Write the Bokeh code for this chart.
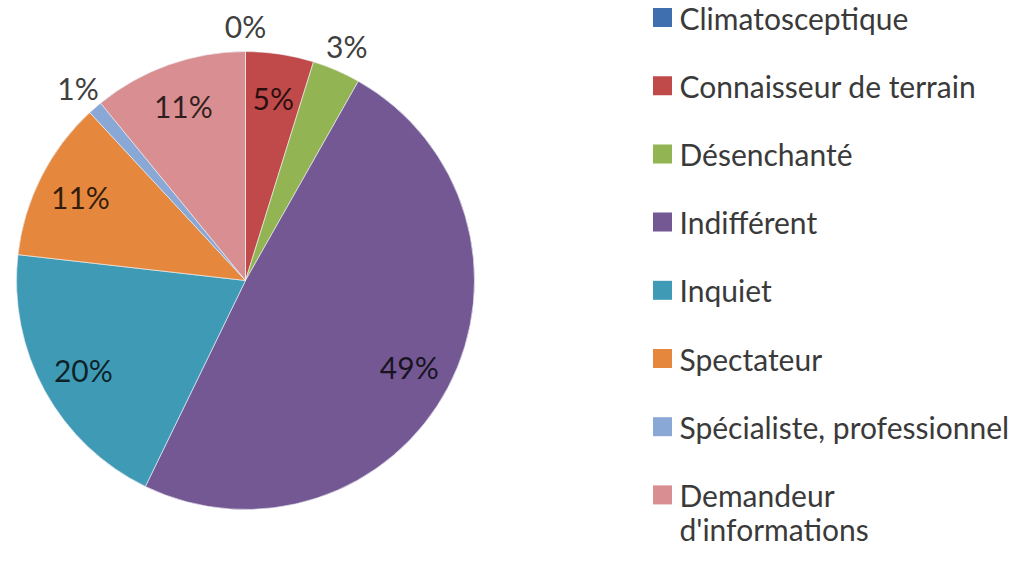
import math
from bokeh.plotting import figure
from bokeh.models import Range1d, ColumnDataSource
from bokeh.core.properties import value
from bokeh.embed import file_html
from bokeh.resources import INLINE

categories = ["Climatosceptique", "Connaisseur de terrain", "Désenchanté", "Indifférent",
              "Inquiet", "Spectateur", "Spécialiste, professionnel", "Demandeur d'informations"]
values = [0.0, 4.8, 3.4, 49.0, 19.6, 11.3, 1.0, 10.9]
colors = ["#3F6FAF", "#BF4A49", "#92B453", "#735893", "#3F9AB5", "#E5873D", "#8AA8D6", "#D98F91"]
legend_lines = [["Climatosceptique"], ["Connaisseur de terrain"], ["Désenchanté"], ["Indifférent"],
                ["Inquiet"], ["Spectateur"], ["Spécialiste, professionnel"], ["Demandeur", "d'informations"]]

W, H = 1010, 548
FONT = "Lato"
FS = "30px"

def Y(y_ref):
    return H - y_ref

p = figure(width=W, height=H, output_backend="svg", toolbar_location=None,
           x_range=Range1d(0, W), y_range=Range1d(0, H), min_border=0)
p.axis.visible = False
p.grid.visible = False
p.outline_line_color = None
p.background_fill_color = "white"

cx, cy, R = 245, Y(280), 229
total = sum(values)
starts, ends, mids = [], [], []
cum = 0.0
for v in values:
    a0 = cum / total
    cum += v
    a1 = cum / total
    starts.append(math.pi / 2 - 2 * math.pi * a0)
    ends.append(math.pi / 2 - 2 * math.pi * a1)
    mids.append(math.pi / 2 - 2 * math.pi * (a0 + a1) / 2)

src = ColumnDataSource(dict(x=[cx] * len(values), y=[cy] * len(values), s=starts, e=ends, c=colors))
p.wedge(x="x", y="y", radius=R, start_angle="s", end_angle="e", direction="clock",
        fill_color="c", line_color="white", line_alpha=0.6, line_width=1, source=src)

# percentage labels
in_x, in_y, in_t, out_x, out_y, out_t = [], [], [], [], [], []
for v, m in zip(values, mids):
    lab = f"{round(v / total * 100):.0f}%"
    if v < 4:
        r = 255
        out_x.append(cx + r * math.cos(m)); out_y.append(cy + r * math.sin(m)); out_t.append(lab)
    else:
        r = 185
        in_x.append(cx + r * math.cos(m)); in_y.append(cy + r * math.sin(m)); in_t.append(lab)

p.text(x=in_x, y=in_y, text=in_t, text_font=value(FONT), text_font_size=FS,
       text_color="black", text_alpha=0.78, text_align="center", text_baseline="middle")
p.text(x=out_x, y=out_y, text=out_t, text_font=value(FONT), text_font_size=FS,
       text_color="#404040", text_align="center", text_baseline="middle")

# legend
lx, ly0, dy = 662, 17, 68.2
mk_x, mk_y, tx, ty, tt = [], [], [], [], []
for i, lines in enumerate(legend_lines):
    yy = ly0 + i * dy
    mk_x.append(lx); mk_y.append(Y(yy))
    for j, ln in enumerate(lines):
        tx.append(679); ty.append(Y(yy + j * 34)); tt.append(ln)
p.rect(x=mk_x, y=mk_y, width=19, height=19, fill_color=colors, line_color=None)
p.text(x=tx, y=ty, text=tt, text_font=value(FONT), text_font_size=FS,
       text_color="#3A3A3A", text_align="left", text_baseline="middle")

open("out.html", "w").write(file_html(p, INLINE))
